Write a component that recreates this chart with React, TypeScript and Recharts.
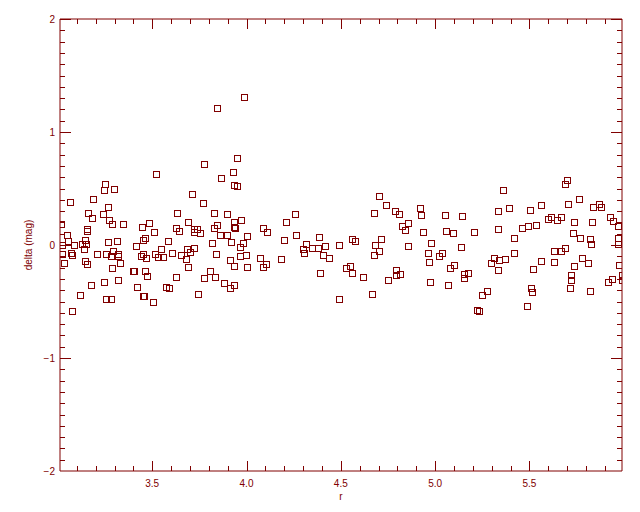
import React from 'react';
import { ScatterChart, Scatter, XAxis, YAxis } from 'recharts';

const COLOR = '#800000';
const FONT = '"Liberation Sans", Arial, sans-serif';

const rDomain: [number, number] = [3.011, 5.991];
const deltaDomain: [number, number] = [-2, 2];

const xMajorTicks = [3.5, 4.0, 4.5, 5.0, 5.5];
const xMinorTicks = [
  3.1, 3.2, 3.3, 3.4, 3.6, 3.7, 3.8, 3.9, 4.1, 4.2, 4.3, 4.4,
  4.6, 4.7, 4.8, 4.9, 5.1, 5.2, 5.3, 5.4, 5.6, 5.7, 5.8, 5.9,
];
const yMajorTicks = [-2, -1, 0, 1, 2];
const yMinorTicks = [
  -1.9, -1.8, -1.7, -1.6, -1.5, -1.4, -1.3, -1.2, -1.1,
  -0.9, -0.8, -0.7, -0.6, -0.5, -0.4, -0.3, -0.2, -0.1,
  0.1, 0.2, 0.3, 0.4, 0.5, 0.6, 0.7, 0.8, 0.9,
  1.1, 1.2, 1.3, 1.4, 1.5, 1.6, 1.7, 1.8, 1.9,
];

const pointsA: [number, number][] = [
  [3.250, 0.540], [3.245, 0.487], [3.298, 0.496], [3.064, 0.381], [3.186, 0.407],
  [3.266, 0.336], [3.160, 0.283], [3.239, 0.274], [3.181, 0.239], [3.271, 0.221],
  [3.016, 0.186], [3.287, 0.186], [3.346, 0.186], [3.484, 0.195], [3.154, 0.142],
  [3.154, 0.124], [3.447, 0.159], [3.048, 0.088], [3.053, 0.035], [3.144, 0.044],
  [3.266, 0.027], [3.314, 0.035], [3.463, 0.062], [3.452, 0.044], [3.128, 0.009],
  [3.149, 0.009], [3.085, 0.000], [3.021, 0.000], [3.415, -0.009],
  [3.023, -0.077], [3.069, -0.068], [3.077, -0.088], [3.137, -0.035], [3.207, -0.080],
  [3.257, -0.080], [3.282, -0.097], [3.293, -0.053], [3.319, -0.077], [3.319, -0.095],
  [3.452, -0.080], [3.438, -0.095], [3.465, -0.112], [3.032, -0.159], [3.144, -0.142],
  [3.154, -0.168], [3.287, -0.204], [3.330, -0.159], [3.399, -0.230], [3.404, -0.230],
  [3.463, -0.230], [3.473, -0.274], [3.176, -0.354], [3.245, -0.327], [3.319, -0.310],
  [3.420, -0.372], [3.117, -0.442], [3.257, -0.478], [3.279, -0.478], [3.452, -0.451],
  [3.459, -0.451], [3.074, -0.584],
];

const pointsB: [number, number][] = [
  [3.846, 1.212], [3.989, 1.310], [3.952, 0.770], [3.775, 0.717], [3.521, 0.628],
  [3.926, 0.646], [3.865, 0.593], [3.936, 0.531], [3.952, 0.522], [3.713, 0.451],
  [3.771, 0.372], [3.633, 0.283], [3.830, 0.283], [3.894, 0.274], [3.691, 0.204],
  [3.973, 0.221], [3.936, 0.204], [3.846, 0.177], [3.628, 0.150], [3.644, 0.124],
  [3.739, 0.142], [3.723, 0.142], [3.723, 0.115], [3.755, 0.106], [3.830, 0.150],
  [3.936, 0.159], [3.941, 0.150], [3.511, 0.115], [3.862, 0.088], [3.894, 0.088],
  [3.585, 0.035], [3.819, 0.018], [3.920, 0.027], [3.979, 0.018], [3.968, -0.018],
  [3.513, -0.080], [3.530, -0.106], [3.559, -0.106], [3.548, -0.035], [3.606, -0.071],
  [3.654, -0.088], [3.686, -0.035], [3.702, -0.065], [3.723, -0.027], [3.681, -0.124],
  [3.691, -0.195], [3.628, -0.283], [3.574, -0.372], [3.590, -0.381], [3.505, -0.504],
  [3.745, -0.434], [3.840, -0.080], [3.910, -0.133], [3.931, -0.186], [3.963, -0.097],
  [3.995, -0.088], [3.809, -0.230], [3.777, -0.292], [3.835, -0.283], [3.883, -0.336],
  [3.915, -0.381], [3.931, -0.354],
];

const pointsC: [number, number][] = [
  [4.000, 0.080], [4.255, 0.274], [4.207, 0.204], [4.085, 0.150], [4.106, 0.115],
  [4.261, 0.088], [4.383, 0.071], [4.197, 0.044], [4.314, 0.009], [4.346, -0.027],
  [4.415, -0.009], [4.489, 0.000], [4.005, -0.195], [4.074, -0.115], [4.090, -0.195],
  [4.101, -0.168], [4.181, -0.124], [4.298, -0.035], [4.303, -0.071], [4.378, -0.027],
  [4.404, -0.088], [4.436, -0.115], [4.388, -0.248], [4.489, -0.478],
];

const pointsD: [number, number][] = [
  [4.702, 0.434], [4.739, 0.354], [4.920, 0.327], [4.787, 0.301], [4.809, 0.274],
  [4.676, 0.283], [4.926, 0.265], [4.856, 0.195], [4.824, 0.168], [4.840, 0.133],
  [4.936, 0.115], [4.559, 0.053], [4.574, 0.035], [4.713, 0.053], [4.681, 0.000],
  [4.856, -0.009], [4.979, 0.018], [4.676, -0.088], [4.702, -0.053], [4.527, -0.204],
  [4.548, -0.186], [4.559, -0.248], [4.617, -0.283], [4.750, -0.310], [4.793, -0.221],
  [4.814, -0.257], [4.793, -0.265], [4.665, -0.434], [4.963, -0.071], [4.968, -0.150],
  [4.973, -0.327],
];

const pointsE: [number, number][] = [
  [5.362, 0.487], [5.394, 0.327], [5.053, 0.265], [5.144, 0.257], [5.335, 0.301],
  [5.059, 0.124], [5.096, 0.106], [5.207, 0.115], [5.335, 0.142], [5.463, 0.150],
  [5.495, 0.168], [5.420, 0.062], [5.138, -0.018], [5.021, -0.097], [5.037, -0.071],
  [5.080, -0.204], [5.101, -0.177], [5.069, -0.354], [5.154, -0.257], [5.154, -0.292],
  [5.176, -0.248], [5.223, -0.575], [5.234, -0.584], [5.250, -0.442], [5.420, -0.071],
  [5.314, -0.115], [5.298, -0.159], [5.340, -0.133], [5.372, -0.124], [5.335, -0.221],
  [5.277, -0.407], [5.489, -0.540],
];

const pointsF: [number, number][] = [
  [5.702, 0.575], [5.691, 0.540], [5.761, 0.407], [5.707, 0.363], [5.564, 0.354],
  [5.867, 0.363], [5.878, 0.336], [5.835, 0.336], [5.505, 0.310], [5.926, 0.248],
  [5.941, 0.212], [5.968, 0.168], [5.601, 0.230], [5.617, 0.248], [5.644, 0.221],
  [5.670, 0.248], [5.739, 0.204], [5.830, 0.204], [5.537, 0.177], [5.729, 0.106],
  [5.766, 0.062], [5.819, 0.053], [5.824, 0.009], [5.968, 0.062], [5.968, 0.009],
  [5.691, -0.027], [5.521, -0.212], [5.559, -0.142], [5.628, -0.053], [5.670, -0.053],
  [5.628, -0.150], [5.734, -0.186], [5.777, -0.115], [5.809, -0.159], [5.718, -0.265],
  [5.718, -0.310], [5.713, -0.381], [5.819, -0.407], [5.915, -0.327], [5.936, -0.301],
  [5.973, -0.177], [5.991, -0.265], [5.991, -0.310], [5.511, -0.381], [5.516, -0.416],
];

const data = [...pointsA, ...pointsB, ...pointsC, ...pointsD, ...pointsE, ...pointsF].map(
  ([r, delta]) => ({ r, delta })
);

const xTicks = [...xMajorTicks, ...xMinorTicks].sort((a, b) => a - b);
const yTicks = [...yMajorTicks, ...yMinorTicks].sort((a, b) => a - b);

// Anchor points for the inward tick marks on the frame; positioned through the chart scales.
const bottomMajor = xMajorTicks.map((r) => ({ r, delta: deltaDomain[0] }));
const bottomMinor = xMinorTicks.map((r) => ({ r, delta: deltaDomain[0] }));
const topMajor = xMajorTicks.map((r) => ({ r, delta: deltaDomain[1] }));
const topMinor = xMinorTicks.map((r) => ({ r, delta: deltaDomain[1] }));
const leftMajor = yMajorTicks.map((delta) => ({ r: rDomain[0], delta }));
const leftMinor = yMinorTicks.map((delta) => ({ r: rDomain[0], delta }));
const rightMajor = yMajorTicks.map((delta) => ({ r: rDomain[1], delta }));
const rightMinor = yMinorTicks.map((delta) => ({ r: rDomain[1], delta }));

const isMajor = (v: number, majors: number[]) => majors.some((m) => Math.abs(m - v) < 1e-6);
const fmtY = (v: number) => (v < 0 ? '\u2212' + Math.abs(v) : String(v));

const XTickLabel = (props: any) => {
  const v = props.payload.value;
  if (!isMajor(v, xMajorTicks)) return <g />;
  return (
    <text x={Number(props.x)} y={Number(props.y) + 16} textAnchor="middle" fill={COLOR} fontSize={10} fontFamily={FONT}>
      {v.toFixed(1)}
    </text>
  );
};

const YTickLabel = (props: any) => {
  const v = props.payload.value;
  if (!isMajor(v, yMajorTicks)) return <g />;
  return (
    <text x={Number(props.x) - 5} y={Number(props.y) + 3.5} textAnchor="end" fill={COLOR} fontSize={10} fontFamily={FONT}>
      {fmtY(Math.round(v))}
    </text>
  );
};

const NoTick = () => <g />;

// Tick marks drawn as thin filled rectangles (more robust than hairline strokes).
const vTick = (dir: number, len: number) => (p: any) => {
  if (p.cx == null || p.cy == null) return <g />;
  const x = Math.round(p.cx);
  const y = Math.round(p.cy);
  return <rect x={x} y={dir < 0 ? y - len : y} width={1} height={len} fill={COLOR} stroke="none" />;
};
const hTick = (dir: number, len: number) => (p: any) => {
  if (p.cx == null || p.cy == null) return <g />;
  const x = Math.round(p.cx);
  const y = Math.round(p.cy);
  return <rect x={dir < 0 ? x - len : x} y={y} width={len} height={1} fill={COLOR} stroke="none" />;
};

const bottomMajorShape = vTick(-1, 10);
const bottomMinorShape = vTick(-1, 5);
const topMajorShape = vTick(1, 10);
const topMinorShape = vTick(1, 5);
const leftMajorShape = hTick(1, 11);
const leftMinorShape = hTick(1, 5);
const rightMajorShape = hTick(-1, 11);
const rightMinorShape = hTick(-1, 5);

const YTitle = (props: any) => {
  const vb = props.viewBox || { x: 0, y: 19, width: 60, height: 452 };
  const cx = vb.x + vb.width - 28;
  const cy = vb.y + vb.height / 2;
  return (
    <text x={cx} y={cy} transform={`rotate(-90 ${cx} ${cy})`} textAnchor="middle" fill={COLOR} fontSize={10} fontFamily={FONT}>
      delta (mag)
    </text>
  );
};

const XTitle = (props: any) => {
  const vb = props.viewBox || { x: 60, y: 471, width: 562, height: 41 };
  return (
    <text x={vb.x + vb.width / 2} y={vb.y + 29} textAnchor="middle" fill={COLOR} fontSize={10} fontFamily={FONT}>
      r
    </text>
  );
};

const SquareShape = (props: any) => {
  const { cx, cy } = props;
  if (cx == null || cy == null) return <g />;
  return (
    <rect x={Math.round(cx) - 2.5} y={Math.round(cy) - 2.5} width={6} height={6} fill="none" stroke={COLOR} strokeWidth={1} />
  );
};

const EmptyShape = () => <g />;

const lineStyle = { stroke: COLOR, strokeWidth: 1 };

const tickSeries: [any[], (p: any) => any][] = [
  [bottomMajor, bottomMajorShape],
  [bottomMinor, bottomMinorShape],
  [topMajor, topMajorShape],
  [topMinor, topMinorShape],
  [leftMajor, leftMajorShape],
  [leftMinor, leftMinorShape],
  [rightMajor, rightMajorShape],
  [rightMinor, rightMinorShape],
];

export default function App() {
  return (
    <div style={{ position: 'absolute', left: 0, top: 0, width: 640, height: 512, background: '#fff' }}>
      <ScatterChart width={640} height={512} margin={{ top: 18, right: 17, bottom: 0, left: 0 }}>
        <XAxis
          xAxisId="bottom"
          type="number"
          dataKey="r"
          domain={rDomain}
          allowDataOverflow
          ticks={xTicks}
          interval={0}
          tickSize={0}
          tickMargin={0}
          tickLine={false}
          tick={XTickLabel}
          height={41}
          axisLine={lineStyle}
          label={XTitle}
        />
        <XAxis
          xAxisId="top"
          orientation="top"
          type="number"
          dataKey="r"
          domain={rDomain}
          allowDataOverflow
          ticks={xTicks}
          interval={0}
          tickSize={0}
          tickMargin={0}
          tickLine={false}
          tick={NoTick}
          height={1}
          axisLine={lineStyle}
        />
        <YAxis
          yAxisId="left"
          type="number"
          dataKey="delta"
          domain={deltaDomain}
          allowDataOverflow
          ticks={yTicks}
          interval={0}
          tickSize={0}
          tickMargin={0}
          tickLine={false}
          tick={YTickLabel}
          width={60}
          axisLine={lineStyle}
          label={YTitle}
        />
        <YAxis
          yAxisId="right"
          orientation="right"
          type="number"
          dataKey="delta"
          domain={deltaDomain}
          allowDataOverflow
          ticks={yTicks}
          interval={0}
          tickSize={0}
          tickMargin={0}
          tickLine={false}
          tick={NoTick}
          width={1}
          axisLine={lineStyle}
        />
        <Scatter xAxisId="top" yAxisId="right" data={data} shape={EmptyShape} isAnimationActive={false} />
        {tickSeries.map(([d, shape], i) => (
          <Scatter
            key={`ticks${i}`}
            xAxisId="bottom"
            yAxisId="left"
            data={d}
            shape={shape}
            isAnimationActive={false}
          />
        ))}
        <Scatter xAxisId="bottom" yAxisId="left" data={data} shape={SquareShape} isAnimationActive={false} />
      </ScatterChart>
    </div>
  );
}
